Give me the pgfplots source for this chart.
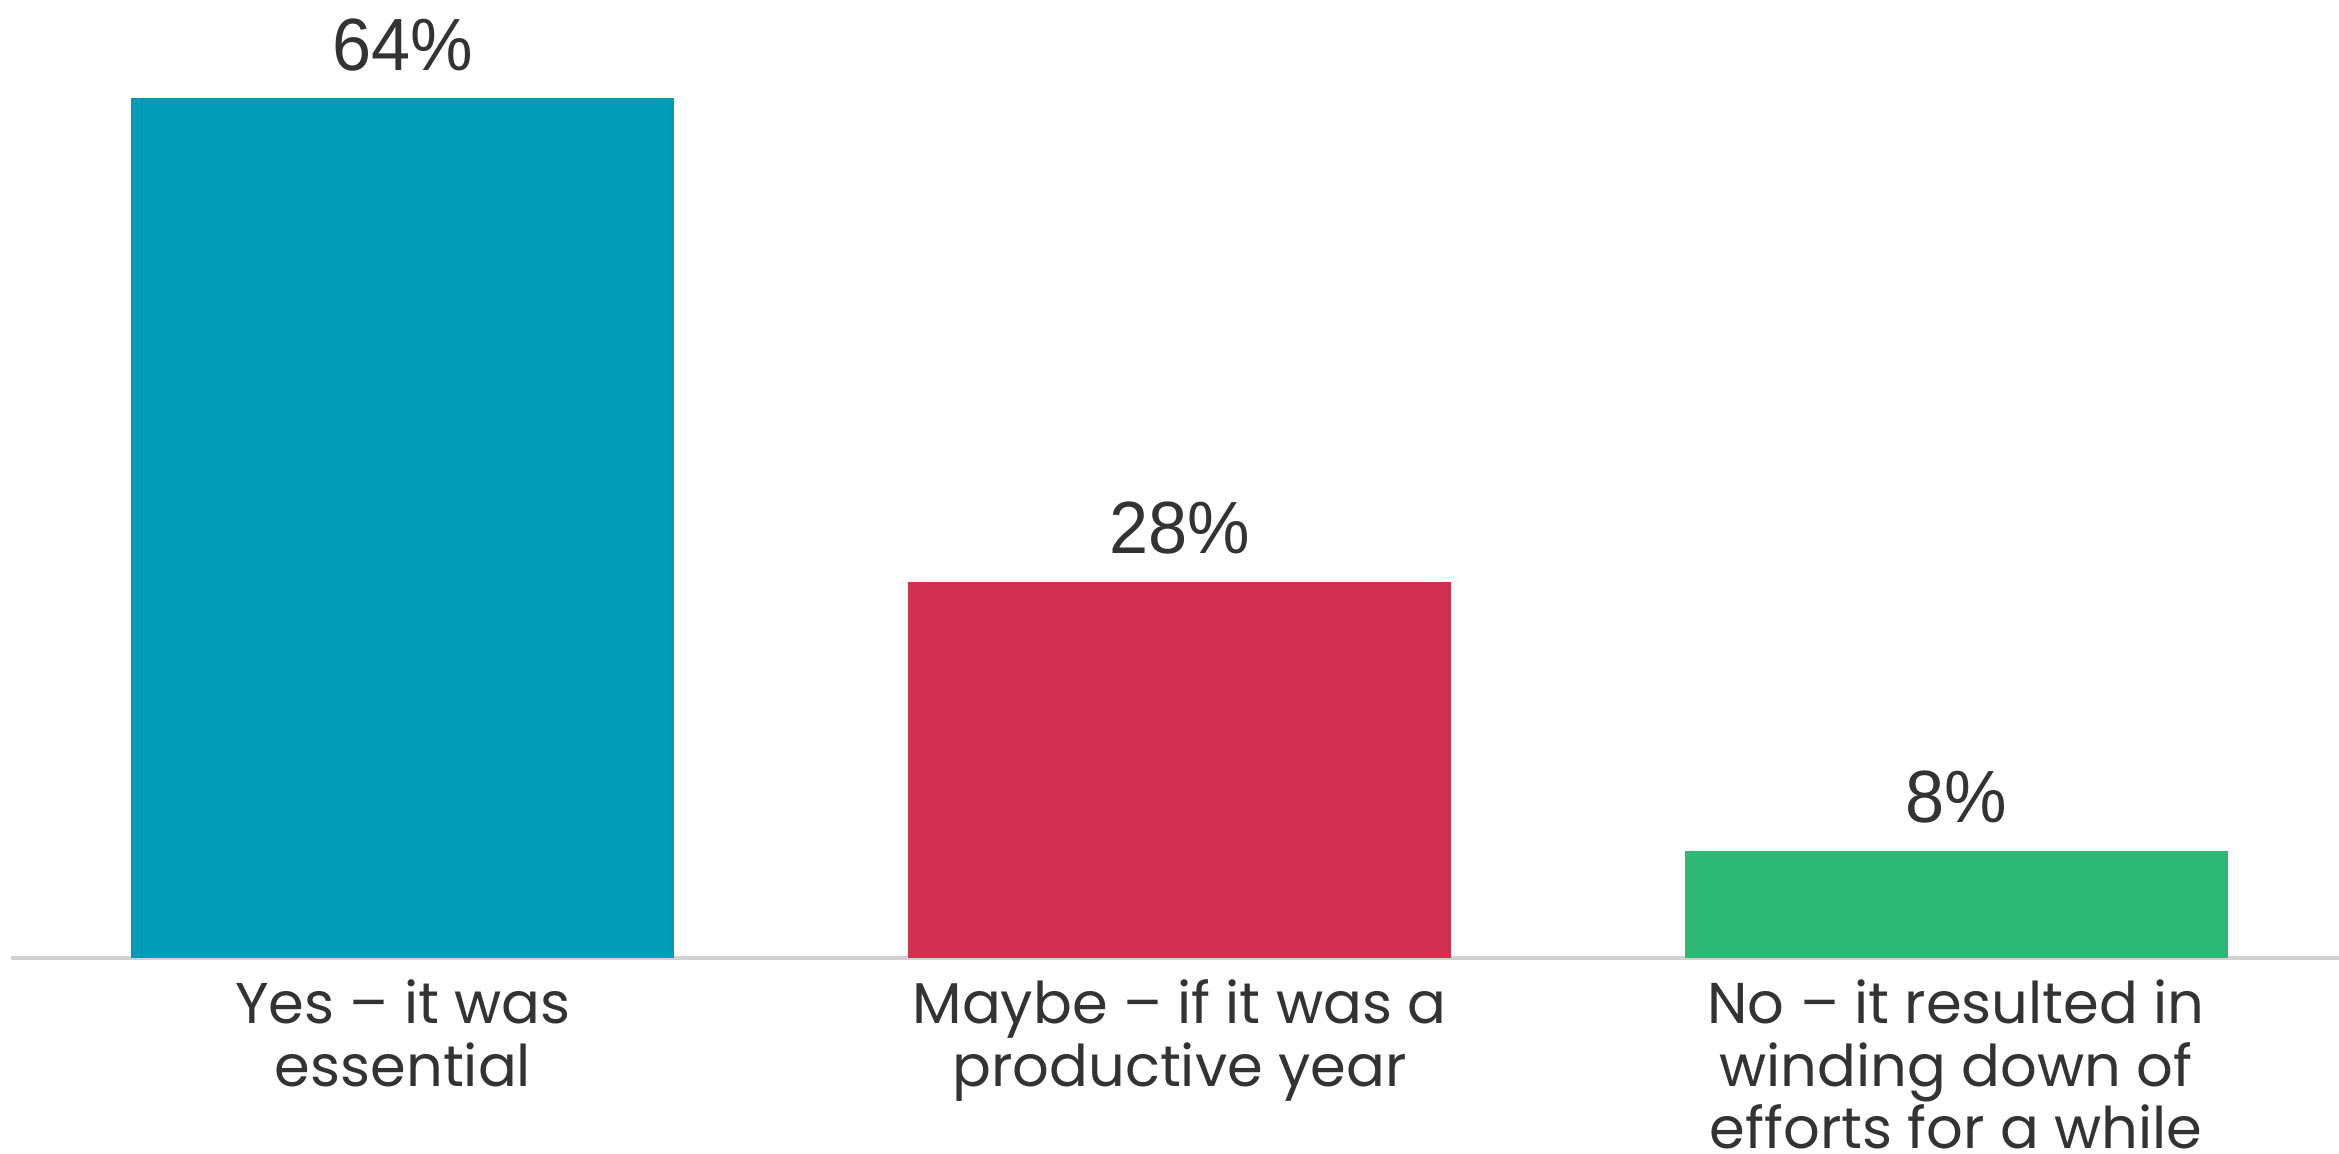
\documentclass[border=0pt]{standalone}
\usepackage{pgfplots}
\pgfplotsset{compat=1.18}
\usepackage{fontspec}
\setmainfont{Poppins}
\newfontfamily\numfont[FakeStretch=0.95]{Liberation Sans}
\definecolor{cblue}{HTML}{009BB8}
\definecolor{cred}{HTML}{D1314E}
\definecolor{cgreen}{HTML}{2DB874}
\definecolor{ctext}{HTML}{333333}
\begin{document}
\begin{tikzpicture}
\begin{axis}[
  at={(0,0)}, anchor=south west,
  scale only axis, width=465.6pt, height=191.6pt,
  xmin=-0.5048, xmax=2.4932, ymin=0, ymax=71.3,
  axis x line=bottom, axis y line=none,
  axis line style={-, draw=black!18, line width=0.8pt},
  ytick=\empty,
  xtick={0,1,2},
  xticklabels={{Yes – it was\\essential},{Maybe – if it was a\\productive year},{No – it resulted in\\winding down of\\efforts for a while}},
  major tick length=0pt,
  xticklabel style={align=center, anchor=north, inner sep=0pt, yshift=-4.2pt, text=ctext, font=\fontsize{11.5}{12.5}\selectfont},
  ybar, bar width=108.6pt, bar shift=0pt,
  nodes near coords={\pgfmathprintnumber[assume math mode=true]{\pgfplotspointmeta}\%},
  every node near coord/.append style={anchor=base, inner sep=0pt, yshift=5.6pt, text=ctext, font=\numfont\fontsize{14.8}{18}\selectfont},
  clip=false,
]
\addplot[fill=cblue, draw=none] coordinates {(0,64)};
\addplot[fill=cred, draw=none] coordinates {(1,28)};
\addplot[fill=cgreen, draw=none] coordinates {(2,8)};
\end{axis}
\pgfresetboundingbox
\useasboundingbox (-2.2pt,-39pt) rectangle (465.6pt,191.6pt);
\end{tikzpicture}
\end{document}
